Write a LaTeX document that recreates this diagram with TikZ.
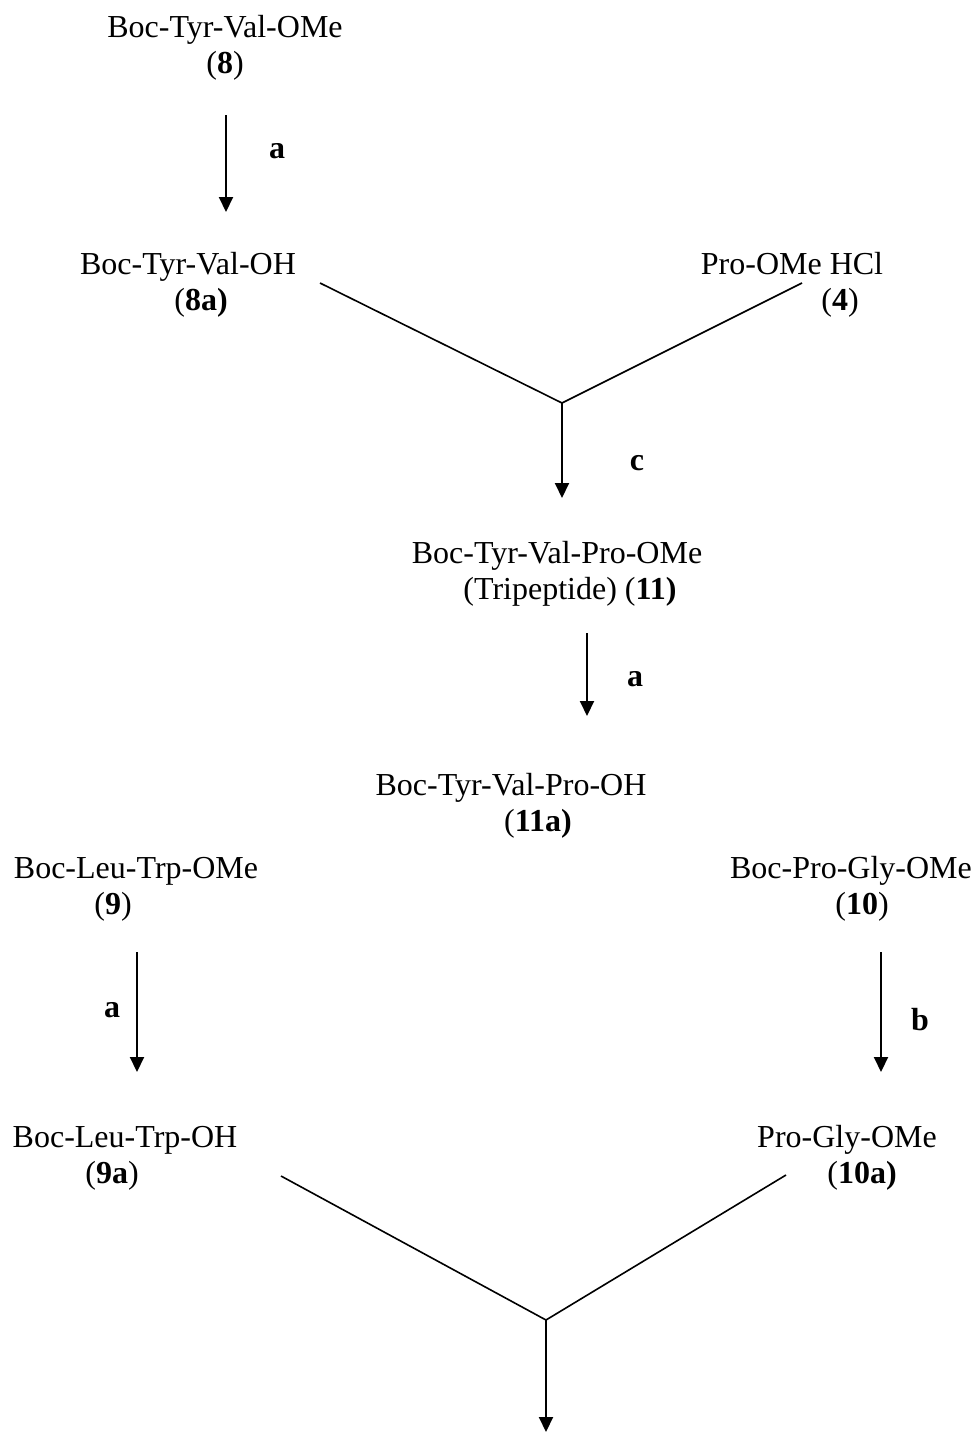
\documentclass[tikz,border=0pt]{standalone}
\usepackage{fontspec}
\setmainfont{Liberation Serif}
\usetikzlibrary{arrows.meta}
\begin{document}
\begin{tikzpicture}[x=1pt,y=-1pt,
  lbl/.style={anchor=base,inner sep=0pt,font=\fontsize{32}{38}\selectfont},
  cond/.style={anchor=base,inner sep=0pt,font=\fontsize{32}{38}\selectfont\bfseries},
  rxn/.style={line width=2pt,-{Triangle[width=14pt,length=15pt]}},
  joinline/.style={line width=1.6pt}]
\useasboundingbox (0,0) rectangle (978,1435);
% compound 8
\node[lbl] (c8) at (225,37) {Boc-Tyr-Val-OMe};
\node[lbl] (c8n) at (225,73) {(\textbf{8})};
\coordinate (a1s) at (226,115);
\coordinate (a1e) at (226,212);
\draw[rxn] (a1s) -- (a1e);
\node[cond] (la1) at (277,158) {a};
% 8a and 4
\node[lbl] (c8a) at (188,274) {Boc-Tyr-Val-OH};
\node[lbl] (c8an) at (201,310) {(\textbf{8a)}};
\node[lbl] (c4) at (792,274) {Pro-OMe HCl};
\node[lbl] (c4n) at (840,310) {(\textbf{4})};
\coordinate (j1l) at (320,283);
\coordinate (j1r) at (802,283);
\coordinate (j1) at (562,403);
\coordinate (j1e) at (562,498);
\draw[joinline] (j1l) -- (j1) -- (j1r);
\draw[rxn] (j1) -- (j1e);
\node[cond] (lc) at (637,470) {c};
% 11
\node[lbl] (c11) at (557,563) {Boc-Tyr-Val-Pro-OMe};
\node[lbl] (c11n) at (570,599) {(Tripeptide) (\textbf{11)}};
\coordinate (a2s) at (587,633);
\coordinate (a2e) at (587,716);
\draw[rxn] (a2s) -- (a2e);
\node[cond] (la2) at (635,686) {a};
% 11a
\node[lbl] (c11a) at (511,795) {Boc-Tyr-Val-Pro-OH};
\node[lbl] (c11an) at (538,831) {(\textbf{11a)}};
% 9 and 10
\node[lbl] (c9) at (136,878) {Boc-Leu-Trp-OMe};
\node[lbl] (c9n) at (113,914) {(\textbf{9})};
\node[lbl] (c10) at (851,878) {Boc-Pro-Gly-OMe};
\node[lbl] (c10n) at (862,914) {(\textbf{10})};
\coordinate (a3s) at (137,952);
\coordinate (a3e) at (137,1072);
\draw[rxn] (a3s) -- (a3e);
\node[cond] (la3) at (112,1017) {a};
\coordinate (a4s) at (881,952);
\coordinate (a4e) at (881,1072);
\draw[rxn] (a4s) -- (a4e);
\node[cond] (lb) at (920,1030) {b};
% 9a and 10a
\node[lbl] (c9a) at (125,1147) {Boc-Leu-Trp-OH};
\node[lbl] (c9an) at (112,1183) {(\textbf{9a})};
\node[lbl] (c10a) at (847,1147) {Pro-Gly-OMe};
\node[lbl] (c10an) at (862,1183) {(\textbf{10a)}};
\coordinate (j2l) at (281,1176);
\coordinate (j2r) at (786,1175);
\coordinate (j2) at (546,1320);
\coordinate (j2e) at (546,1432);
\draw[joinline] (j2l) -- (j2) -- (j2r);
\draw[rxn] (j2) -- (j2e);
\end{tikzpicture}
\end{document}
